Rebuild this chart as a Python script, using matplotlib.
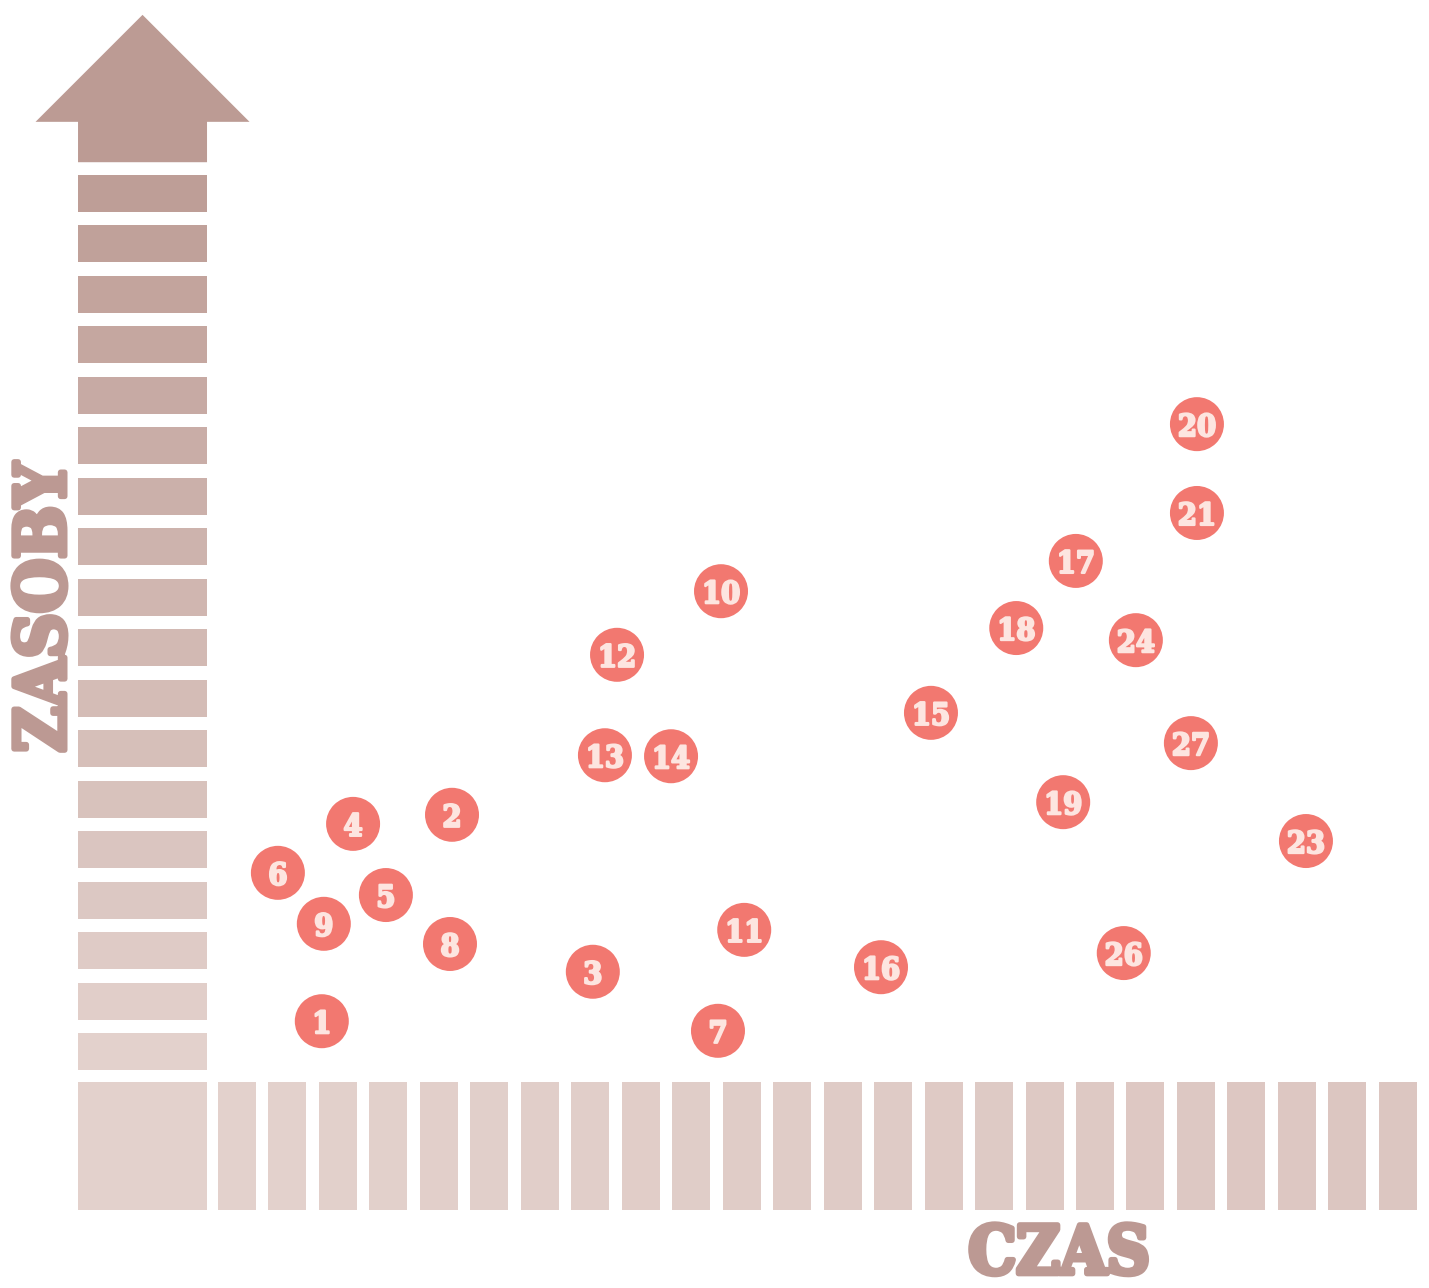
import matplotlib.pyplot as plt
import numpy as np
from matplotlib.patches import Polygon
from matplotlib.colors import to_rgb
import matplotlib.patheffects as pe

# task numbers and where they sit (time slot, resource slot)
task_ids = [1, 2, 3, 4, 5, 6, 7, 8, 9, 10, 11, 12, 13, 14,
            15, 16, 17, 18, 19, 20, 21, 23, 24, 26, 27]
time_pos = [2.68, 5.26, 8.05, 3.30, 3.95, 1.81, 10.53, 5.22, 2.72, 10.59,
            11.05, 8.53, 8.29, 9.60, 14.75, 13.76, 17.62, 16.44, 17.37, 20.02,
            20.02, 22.18, 18.81, 18.57, 19.90]
resource_pos = [1.60, 5.69, 2.58, 5.51, 4.10, 4.54, 1.41, 3.13, 3.53, 10.12,
                3.41, 8.86, 6.87, 6.85, 7.71, 2.67, 10.72, 9.39, 5.94, 13.43,
                11.67, 5.17, 9.15, 2.95, 7.11]

n_time_slots = 24
n_resource_slots = 18
x_title = "CZAS"
y_title = "ZASOBY"

circle_color = "#f27870"
number_color = "#fde5e0"
axis_dark = "#bc9b94"
axis_light = "#e3d1cc"
axis_right = "#dcc6c1"
title_color = "#bc9993"

font = dict(family="DejaVu Serif", fontweight="bold", fontstretch="condensed")

fig = plt.figure(figsize=(14.29, 12.88), dpi=100)
ax = fig.add_axes([0, 0, 1, 1])
ax.set_xlim(-3.696, 24.618)
ax.set_ylim(-3.686, 21.834)
ax.axis("off")

# y axis: stack of bars getting darker towards the arrow
band_left, band_right = -2.150, 0.406
bar_lo, bar_hi = -2.14, 0.396
ys = np.arange(1, n_resource_slots + 1)
light, dark = np.array(to_rgb(axis_light)), np.array(to_rgb(axis_dark))
t = (ys - 1) / n_resource_slots
ycols = [tuple(light + (dark - light) * k) for k in t]
ax.barh(ys, band_right - band_left, left=band_left, height=0.733,
        color=ycols, linewidth=0)

# arrow on top
shaft_lo, head_base = 18.62, 19.42
mid = (band_left + band_right) / 2
half = 2.12
arrow = Polygon([(band_left, shaft_lo), (band_left, head_base),
                 (mid - half, head_base), (mid, head_base + half),
                 (mid + half, head_base), (band_right, head_base),
                 (band_right, shaft_lo)],
                closed=True, facecolor=axis_dark, edgecolor="none")
ax.add_patch(arrow)

# x axis: row of bars
xs = np.arange(1, n_time_slots + 1)
right = np.array(to_rgb(axis_right))
tx = (xs - 1) / (n_time_slots - 1)
xcols = [tuple(light + (right - light) * k) for k in tx]
ax.bar(xs, bar_hi - bar_lo, bottom=bar_lo, width=0.753, color=xcols,
       linewidth=0)
ax.bar(mid, bar_hi - bar_lo, bottom=bar_lo, width=band_right - band_left,
       color=axis_light, linewidth=0)

# tasks
ax.scatter(time_pos, resource_pos, s=(54 * 0.72) ** 2, color=circle_color,
           edgecolors="none", zorder=3)
num_fx = [pe.withStroke(linewidth=1.6, foreground=number_color)]
for n, x, y in zip(task_ids, time_pos, resource_pos):
    ax.text(x, y, str(n), ha="center", va="center_baseline", fontsize=22,
            color=number_color, zorder=4, path_effects=num_fx, **font)

title_fx = [pe.withStroke(linewidth=4, foreground=title_color)]
ax.text(-2.80, 9.80, y_title, rotation=90, ha="center", va="center",
        fontsize=50, color=title_color, path_effects=title_fx, **font)
ax.text(17.29, -3.40, x_title, ha="center", va="baseline",
        fontsize=48, color=title_color, path_effects=title_fx, **font)

fig.savefig("out.png", dpi=100)
